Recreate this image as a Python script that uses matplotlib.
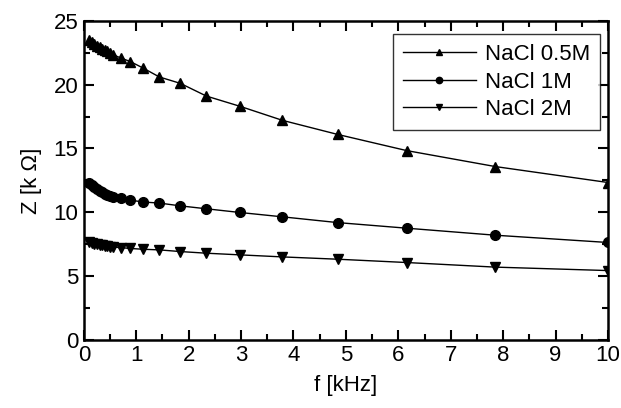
import matplotlib
matplotlib.use("Agg")
import matplotlib.pyplot as plt
from matplotlib.ticker import MultipleLocator

plt.rcParams['font.family'] = ['Liberation Sans', 'DejaVu Sans']

freq = [0.1, 0.15, 0.2, 0.25, 0.3, 0.35, 0.4, 0.45, 0.5, 0.55, 0.7, 0.89,
        1.13, 1.44, 1.84, 2.34, 2.98, 3.79, 4.84, 6.16, 7.85, 10.0]
z_05 = [23.5, 23.35, 23.2, 23.05, 22.95, 22.8, 22.7, 22.6, 22.45, 22.35, 22.1, 21.8,
        21.3, 20.6, 20.1, 19.1, 18.3, 17.2, 16.1, 14.83, 13.58, 12.33]
z_1 = [12.3, 12.1, 11.95, 11.8, 11.65, 11.55, 11.45, 11.38, 11.3, 11.22, 11.1, 10.95,
       10.8, 10.72, 10.5, 10.27, 9.98, 9.64, 9.19, 8.75, 8.2, 7.63]
z_2 = [7.7, 7.62, 7.55, 7.5, 7.45, 7.4, 7.36, 7.32, 7.3, 7.27, 7.23, 7.16,
       7.1, 7.05, 6.92, 6.79, 6.66, 6.5, 6.32, 6.06, 5.7, 5.43]
labels = ["NaCl 0.5M", "NaCl 1M", "NaCl 2M"]

FS = 16

fig = plt.figure(figsize=(6.21, 4.08), dpi=100)
ax = fig.add_axes([0.135, 0.167, 0.844, 0.782])

ax.plot(freq, z_05, color='black', lw=1, marker='^', ms=7.5, label=labels[0])
ax.plot(freq, z_1, color='black', lw=1, marker='o', ms=7, label=labels[1])
ax.plot(freq, z_2, color='black', lw=1, marker='v', ms=7.5, label=labels[2])

ax.set_xlim(0, 10)
ax.set_ylim(0, 25)
ax.xaxis.set_major_locator(MultipleLocator(1))
ax.xaxis.set_minor_locator(MultipleLocator(0.5))
ax.yaxis.set_major_locator(MultipleLocator(5))
ax.yaxis.set_minor_locator(MultipleLocator(2.5))
ax.tick_params(which='both', direction='in', top=True, right=True,
               width=1.5, labelsize=FS, pad=4)
ax.tick_params(which='major', length=7)
ax.tick_params(which='minor', length=4)
for s in ax.spines.values():
    s.set_linewidth(1.8)

ax.set_xlabel("f [kHz]", fontsize=FS, labelpad=6)
ax.set_ylabel("Z [k Ω]", fontsize=FS, labelpad=8)

leg = ax.legend(loc='upper right', bbox_to_anchor=(0.985, 0.959), fontsize=FS,
                frameon=True, fancybox=False, handlelength=3.3, markerscale=0.65,
                borderpad=0.45, labelspacing=0.3, handletextpad=0.4,
                borderaxespad=0)
leg.get_frame().set_edgecolor('black')
leg.get_frame().set_linewidth(1.0)

fig.savefig("out.png", dpi=100)
